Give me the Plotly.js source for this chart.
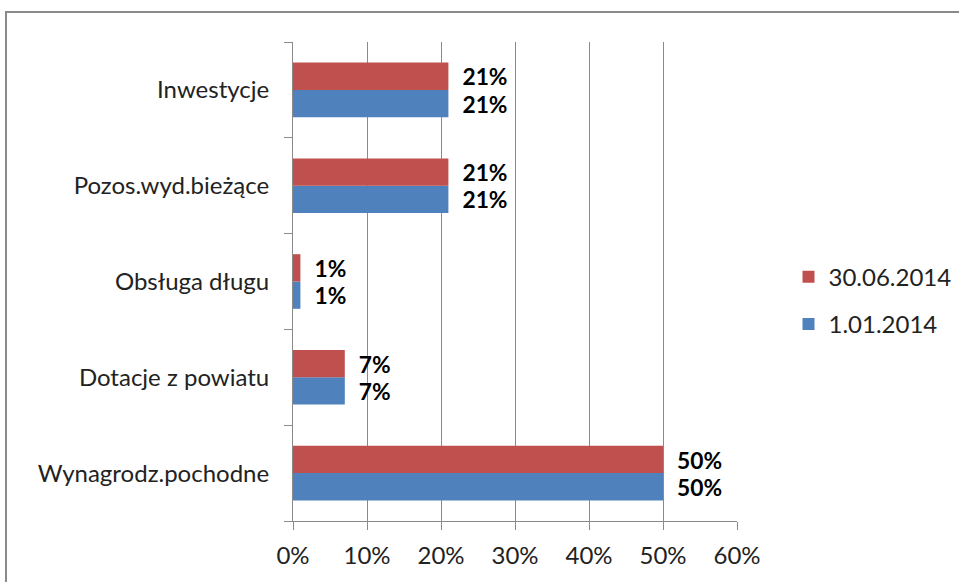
<!DOCTYPE html>
<html>
<head>
<meta charset="utf-8">
<script src="https://cdn.plot.ly/plotly-3.0.1.min.js"></script>
<style>
  html, body { margin: 0; padding: 0; background: #fff; }
  #wrap { position: relative; width: 959px; height: 582px; overflow: hidden; }
  #chart { position: absolute; left: 0; top: 0; width: 959px; height: 582px; }
  #frame { position: absolute; left: 5px; top: 11px; width: 1000px; height: 1000px;
           border-left: 2px solid #8a8a8a; border-top: 2px solid #8a8a8a; pointer-events: none; }
</style>
</head>
<body>
<div id="wrap">
  <div id="chart"></div>
  <div id="frame"></div>
</div>
<script>
const categories = ["Wynagrodz.pochodne", "Dotacje z powiatu", "Obsługa długu", "Pozos.wyd.bieżące", "Inwestycje"];
const seriesNames = ["1.01.2014", "30.06.2014"];
const values_0101 = [0.50, 0.07, 0.01, 0.21, 0.21];
const values_3006 = [0.50, 0.07, 0.01, 0.21, 0.21];
const tickValues = [0, 0.1, 0.2, 0.3, 0.4, 0.5, 0.6];
const tickLabels = ["0%", "10%", "20%", "30%", "40%", "50%", "60%"];

const FONT = "Lato, 'Open Sans', sans-serif";
const labelFont = { family: FONT, size: 25, color: "#000", weight: "bold" };
const tickFont = { family: FONT, size: 24, color: "#222" };

function makeTrace(name, vals, color, group, rank) {
  return {
    type: "bar",
    orientation: "h",
    name: name,
    y: categories,
    x: vals,
    marker: { color: color },
    text: vals.map(v => "\u00a0\u00a0" + Math.round(v * 100) + "%"),
    textposition: "outside",
    textfont: labelFont,
    cliponaxis: false,
    legendgroup: group,
    legendrank: rank,
    hoverinfo: "none"
  };
}

const data = [
  makeTrace(seriesNames[0], values_0101, "#4F81BD", "a", 2),
  makeTrace(seriesNames[1], values_3006, "#C0504D", "b", 1)
];

const layout = {
  width: 959,
  height: 582,
  margin: { l: 293, r: 222, t: 42, b: 61, autoexpand: false },
  paper_bgcolor: "#fff",
  plot_bgcolor: "#fff",
  barmode: "group",
  bargap: 0.43,
  bargroupgap: 0,
  showlegend: true,
  font: { family: FONT, size: 24, color: "#222" },
  xaxis: {
    range: [0, 0.6],
    tickvals: tickValues,
    ticktext: tickLabels,
    showgrid: true,
    gridcolor: "#8a8a8a",
    gridwidth: 1,
    showline: true,
    linecolor: "#8a8a8a",
    linewidth: 1,
    ticks: "outside",
    ticklen: 8,
    tickcolor: "#8a8a8a",
    zeroline: false,
    fixedrange: true,
    ticklabelstandoff: 5,
    tickfont: tickFont
  },
  yaxis: {
    type: "category",
    categoryorder: "array",
    categoryarray: categories,
    showline: true,
    linecolor: "#8a8a8a",
    linewidth: 1,
    ticks: "outside",
    tickson: "boundaries",
    ticklen: 8,
    tickcolor: "#8a8a8a",
    showgrid: false,
    ticklabelstandoff: 18,
    fixedrange: true,
    tickfont: tickFont
  },
  legend: {
    x: 1.116,
    xanchor: "left",
    y: 0.46,
    yanchor: "middle",
    traceorder: "grouped",
    tracegroupgap: 13,
    font: tickFont,
    itemwidth: 30
  }
};

Plotly.newPlot("chart", data, layout, { displayModeBar: false, staticPlot: true });
</script>
</body>
</html>
